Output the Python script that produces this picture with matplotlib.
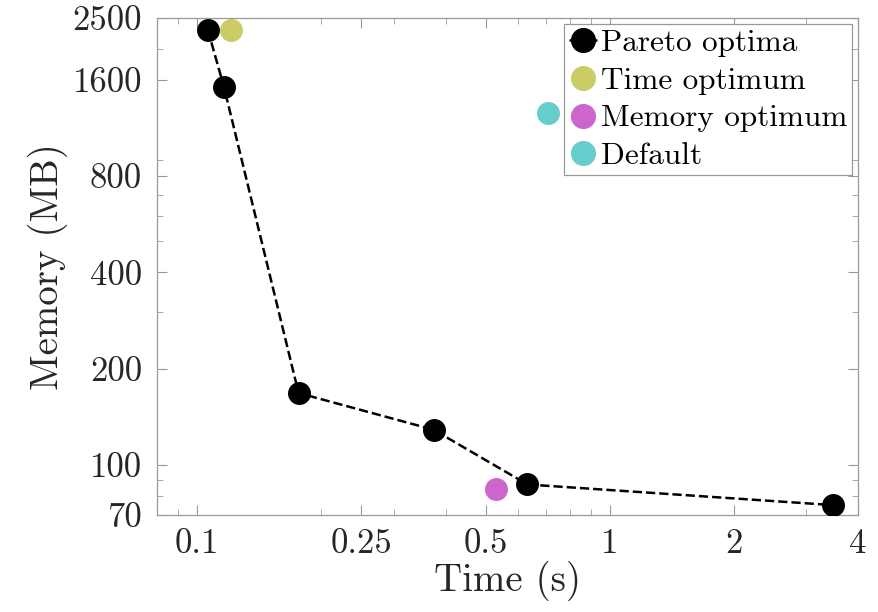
import matplotlib
matplotlib.use('Agg')
import matplotlib.pyplot as plt
from matplotlib.ticker import FixedLocator, NullFormatter

plt.rcParams['font.family'] = ['cmr10', 'DejaVu Serif']
plt.rcParams['mathtext.fontset'] = 'cm'
plt.rcParams['axes.formatter.use_mathtext'] = True

# Pareto front (time in s, memory in MB)
pareto_time = [0.106, 0.116, 0.176, 0.374, 0.632, 3.48]
pareto_mem = [2295, 1523, 168, 129, 87, 75]
time_opt = ([0.121], [2295])
mem_opt = ([0.531], [84])
default = ([0.708], [1262])

xticks = [0.1, 0.25, 0.5, 1, 2, 4]
xticklabels = ['0.1', '0.25', '0.5', '1', '2', '4']
yticks = [70, 100, 200, 400, 800, 1600, 2500]
yticklabels = ['70', '100', '200', '400', '800', '1600', '2500']

fig = plt.figure(figsize=(8.79, 6.12), dpi=100)
ax = fig.add_axes([0.179, 0.159, 0.797, 0.812])

ax.plot(pareto_time, pareto_mem, 'k--o', lw=1.8, ms=15.5, label='Pareto optima', zorder=3)
ax.plot(*time_opt, 'o', color='#cccc66', ms=15.5, label='Time optimum', zorder=2)
ax.plot(*mem_opt, 'o', color='#cc66cc', ms=15.5, label='Memory optimum', zorder=2)
ax.plot(*default, 'o', color='#66cccc', ms=15.5, label='Default', zorder=2)

ax.set_xscale('log')
ax.set_yscale('log')
ax.set_xlim(0.08, 4)
ax.set_ylim(70, 2500)
ax.xaxis.set_major_locator(FixedLocator(xticks))
ax.set_xticklabels(xticklabels)
ax.yaxis.set_major_locator(FixedLocator(yticks))
ax.set_yticklabels(yticklabels)
ax.xaxis.set_minor_formatter(NullFormatter())
ax.yaxis.set_minor_formatter(NullFormatter())

for s in ax.spines.values():
    s.set_color('#999999')
    s.set_linewidth(0.9)
ax.tick_params(which='both', direction='in', top=True, right=True, colors='#999999',
               labelcolor='#262626', labelsize=25)
ax.tick_params(which='major', length=7)
ax.tick_params(which='minor', length=4)
ax.tick_params(axis='x', pad=10)
ax.tick_params(axis='y', pad=11)

ax.set_xlabel('Time (s)', fontsize=28, color='#262626', labelpad=0)
ax.set_ylabel('Memory (MB)', fontsize=28, color='#262626', labelpad=3)

leg = ax.legend(loc='upper right', fontsize=22.5, handlelength=0.9, handletextpad=0.12,
                borderpad=0.15, labelspacing=0.32, borderaxespad=0.2, fancybox=False,
                framealpha=1, edgecolor='#999999', markerscale=1.1)
leg.get_frame().set_linewidth(0.9)
for t in leg.get_texts():
    t.set_color('black')

fig.savefig('out.png', dpi=100)
